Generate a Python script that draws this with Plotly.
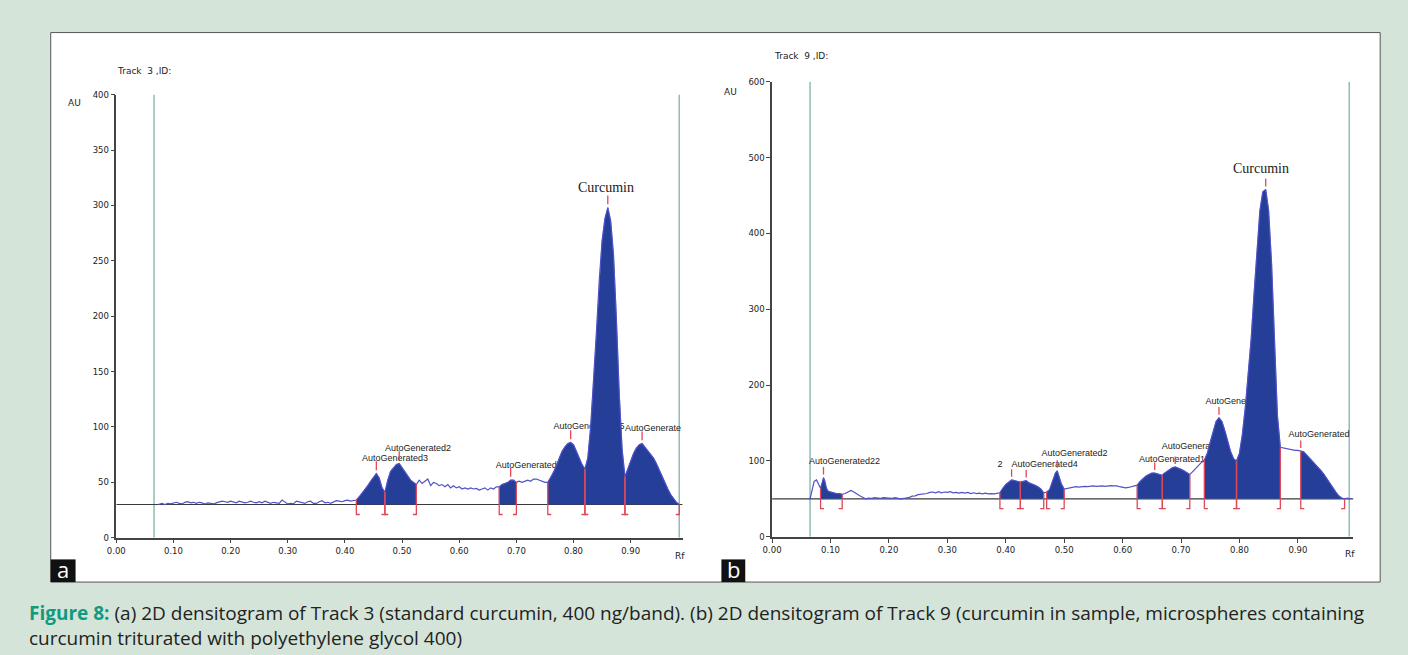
import numpy as np
import plotly.graph_objects as go

W, H = 1408, 655

# ---------------- DATA ----------------
# Panel a : Track 3 (standard curcumin)
A_RF = [0.073, 0.08, 0.085, 0.09, 0.095, 0.10, 0.105, 0.11, 0.115, 0.12, 0.125, 0.13, 0.135, 0.14, 0.145,
        0.15, 0.155, 0.16, 0.165, 0.17, 0.175, 0.18, 0.185, 0.19, 0.195, 0.20, 0.205, 0.21, 0.215, 0.22,
        0.225, 0.23, 0.235, 0.24, 0.245, 0.25, 0.255, 0.26, 0.265, 0.27, 0.275, 0.28, 0.285, 0.29, 0.295,
        0.30, 0.305, 0.31, 0.315, 0.32, 0.325, 0.33, 0.335, 0.34, 0.345, 0.35, 0.355, 0.36, 0.365, 0.37,
        0.375, 0.38, 0.385, 0.39, 0.395, 0.40, 0.405, 0.41, 0.415, 0.42,
        0.425, 0.43, 0.435, 0.44, 0.445, 0.45, 0.455, 0.46, 0.465, 0.47, 0.475, 0.48, 0.485, 0.49, 0.495,
        0.50, 0.505, 0.51, 0.515, 0.52, 0.525,
        0.53, 0.535, 0.54, 0.545, 0.55, 0.555, 0.56, 0.565, 0.57, 0.575, 0.58, 0.585, 0.59, 0.595, 0.60,
        0.605, 0.61, 0.615, 0.62, 0.625, 0.63, 0.635, 0.64, 0.645, 0.65, 0.655, 0.66, 0.665, 0.67,
        0.675, 0.68, 0.685, 0.69, 0.695, 0.70,
        0.705, 0.71, 0.715, 0.72, 0.725, 0.73, 0.735, 0.74, 0.745, 0.75, 0.755,
        0.76, 0.765, 0.77, 0.775, 0.78, 0.785, 0.79, 0.795, 0.80, 0.805, 0.81, 0.815, 0.82, 0.825, 0.83,
        0.835, 0.84, 0.845, 0.85, 0.855, 0.86, 0.865, 0.87, 0.875, 0.88, 0.885, 0.89, 0.895, 0.90, 0.905,
        0.91, 0.915, 0.92, 0.925, 0.93, 0.935, 0.94, 0.945, 0.95, 0.955, 0.96, 0.965, 0.97, 0.975, 0.98, 0.985]
A_AU = [30, 31, 30, 31, 30.5, 31.5, 32, 31, 30.5, 32, 32.5, 31.5, 32, 31, 32,
        31.5, 30.5, 31.5, 31, 30.5, 31.5, 32, 33, 32.5, 32, 33, 32, 31.5, 33, 32.5,
        31.5, 32, 33, 32, 31.5, 32.5, 31.5, 33, 32, 31, 32, 31.5, 31, 34, 32,
        30.5, 31, 30.5, 33, 32.5, 32, 31, 32.5, 33, 31, 31, 32.5, 33.5, 31.5, 32,
        31, 32.5, 33.5, 33, 32.5, 33.5, 34, 33, 33.5, 34,
        37, 40, 44, 47, 51, 55, 58, 54, 45, 41, 52, 60, 63, 66, 67,
        63, 60, 55, 52, 50, 48,
        52, 49, 51, 53, 47, 50, 49, 47, 48, 46, 48, 45, 47, 45, 46,
        44, 45, 44, 45, 44, 44.5, 43, 44, 45, 43, 45, 44, 46, 46,
        48, 49, 50, 52, 52, 50,
        51, 50, 51, 52, 51, 53, 53, 52, 51, 50, 50,
        54, 59, 65, 72, 78, 82, 85, 86, 84, 78, 72, 66, 62, 72, 100,
        140, 185, 232, 268, 288, 298, 286, 255, 198, 130, 80, 55, 62, 70, 76,
        81, 84, 85, 82, 79, 76, 72, 67, 61, 55, 49, 44, 39, 35, 32, 30]
A_BASE = 30
A_WINDOWS = [(0.42, 0.47), (0.47, 0.525), (0.67, 0.70), (0.755, 0.82), (0.82, 0.89), (0.89, 0.985)]
A_APEX = [0.455, 0.495, 0.69, 0.795, 0.86, 0.92]
A_LABELS = ["AutoGenerated3", "AutoGenerated2", "AutoGenerated1", "AutoGenerated15", "AutoGenerate"]
A_LABEL_POS = [(0.430, 71), (0.470, 80), (0.664, 65), (0.765, 100), (0.890, 98)]

# Panel b : Track 9 (sample)
B_RF = [0.065, 0.068, 0.072, 0.076, 0.08, 0.083, 0.086, 0.088, 0.09, 0.093, 0.096, 0.10, 0.105, 0.11,
        0.115, 0.12, 0.125, 0.13, 0.135, 0.14, 0.145, 0.15, 0.155, 0.16, 0.165, 0.17, 0.175, 0.18, 0.185,
        0.19, 0.195, 0.20, 0.205, 0.21, 0.215, 0.22, 0.225, 0.23, 0.235, 0.24, 0.245, 0.25, 0.255, 0.26,
        0.265, 0.27, 0.275, 0.28, 0.285, 0.29, 0.295, 0.30, 0.305, 0.31, 0.315, 0.32, 0.325, 0.33, 0.335,
        0.34, 0.345, 0.35, 0.355, 0.36, 0.365, 0.37, 0.375, 0.38, 0.385, 0.39,
        0.395, 0.40, 0.405, 0.41, 0.415, 0.42, 0.425, 0.43, 0.435, 0.44, 0.445, 0.45, 0.455, 0.46, 0.465,
        0.47, 0.475, 0.48, 0.485, 0.488, 0.49, 0.495, 0.50,
        0.505, 0.51, 0.515, 0.52, 0.525, 0.53, 0.535, 0.54, 0.545, 0.55, 0.555, 0.56, 0.565, 0.57, 0.575,
        0.58, 0.585, 0.59, 0.595, 0.60, 0.605, 0.61, 0.615, 0.62, 0.625,
        0.63, 0.635, 0.64, 0.645, 0.65, 0.655, 0.66, 0.665, 0.668, 0.67, 0.675, 0.68, 0.685, 0.69, 0.695,
        0.70, 0.705, 0.71, 0.715,
        0.72, 0.725, 0.73, 0.735, 0.74,
        0.745, 0.75, 0.755, 0.76, 0.765, 0.77, 0.775, 0.78, 0.785, 0.79, 0.795, 0.80, 0.805, 0.81, 0.815,
        0.82, 0.825, 0.83, 0.835, 0.84, 0.845, 0.85, 0.855, 0.86, 0.865, 0.87,
        0.875, 0.88, 0.885, 0.89, 0.895, 0.90, 0.905,
        0.91, 0.915, 0.92, 0.925, 0.93, 0.935, 0.94, 0.945, 0.95, 0.955, 0.96, 0.965, 0.97, 0.975, 0.98,
        0.985, 0.99]
B_AU = [50, 60, 73, 75, 68, 64, 72, 78, 74, 64, 60, 59, 58, 57,
        57, 56, 57, 59, 61, 59, 56, 54, 52, 50, 51, 50.5, 51.5, 51, 50.5,
        51.5, 51, 51, 50.5, 51.5, 50.5, 50, 50.5, 51, 52, 53.5, 54, 55.5, 56, 57,
        57, 58.5, 59, 58, 59.5, 58, 59, 58.5, 59.5, 58, 58.5, 57.5, 58.5, 57.5, 58.5,
        57, 58, 57, 57.5, 56.5, 57.5, 56.5, 57, 56.5, 57, 58,
        64, 69, 72, 75, 74, 73, 72, 73, 74, 71, 70, 68, 66, 63, 58,
        59, 62, 72, 84, 87, 82, 70, 63,
        64, 65, 65.5, 66, 65.5, 66, 66.5, 66, 66.5, 67, 66.5, 67, 67, 66.5, 67,
        67.5, 67, 67, 66, 65, 64.5, 65, 66, 67, 68,
        73, 77, 80, 82, 84, 84, 83, 82, 81, 83, 86, 89, 91, 92, 91,
        89, 87, 84, 82,
        86, 90, 95, 98, 101,
        110, 125, 140, 152, 157, 152, 140, 125, 112, 103, 100, 110, 135, 170, 210,
        260, 320, 380, 430, 455, 458, 430, 360, 260, 160, 118,
        117, 116, 115, 115, 114, 114, 113,
        112, 108, 104, 100, 96, 92, 87, 82, 76, 70, 64, 59, 54, 51, 50,
        51, 50]
B_BASE = 50
B_WINDOWS = [(0.083, 0.12), (0.39, 0.425), (0.425, 0.465), (0.47, 0.50), (0.625, 0.668),
             (0.668, 0.715), (0.74, 0.795), (0.795, 0.87), (0.905, 0.98)]
B_APEX = [0.088, 0.41, 0.435, 0.488, 0.655, 0.69, 0.765, 0.845, 0.905]
B_LABELS = ["AutoGenerated22", "2", "AutoGenerated4", "AutoGenerated2", "AutoGenerated13",
            "AutoGenerated1", "AutoGenerated15", "AutoGenerated"]
B_LABEL_POS = [(0.063, 99), (0.386, 95), (0.410, 95), (0.461, 110), (0.628, 102),
               (0.667, 119), (0.742, 178), (0.884, 134)]

A_YTICKS = [0, 50, 100, 150, 200, 250, 300, 350, 400]
B_YTICKS = [0, 100, 200, 300, 400, 500, 600]
XTICKS = [0.0, 0.1, 0.2, 0.3, 0.4, 0.5, 0.6, 0.7, 0.8, 0.9]
XTICK_TEXT = ["0.00", "0.10", "0.20", "0.30", "0.40", "0.50", "0.60", "0.70", "0.80", "0.90"]

CAPTION_BOLD = "Figure 8:"
CAPTION_1 = (" (a) 2D densitogram of Track 3 (standard curcumin, 400 ng/band). (b) 2D densitogram of Track 9 "
             "(curcumin in sample, microspheres containing")
CAPTION_2 = "curcumin triturated with polyethylene glycol 400)"

# ---------------- STYLE ----------------
BG = "#d5e4d9"
FILL = "#253f99"
CURVE = "#5050c8"
RED = "#e0485a"
GREEN_LINE = "#8fbdb6"
AXIS = "#444444"
SANS = "Liberation Sans"
TICKFONT = "DejaVu Sans"


def px(x):
    return x / W


def py(y):
    return 1 - y / H


fig = go.Figure()

panels = [
    dict(rf=A_RF, au=A_AU, base=A_BASE, win=A_WINDOWS, apex=A_APEX, labels=A_LABELS, lpos=A_LABEL_POS,
         xa="x", ya="y", d=9, w=0.006, ap=(3, 11), green=[(0.066, 400), (0.985, 400)], xend=0.991),
    dict(rf=B_RF, au=B_AU, base=B_BASE, win=B_WINDOWS, apex=B_APEX, labels=B_LABELS, lpos=B_LABEL_POS,
         xa="x2", ya="y2", d=13, w=0.006, ap=(4, 14), green=[(0.065, 600), (0.988, 600)], xend=0.995),
]

for p in panels:
    rf = np.array(p["rf"])
    au = np.array(p["au"])
    # peak labels (drawn first so the fills overlap them, as in the original)
    fig.add_trace(go.Scatter(
        x=[q[0] for q in p["lpos"]], y=[q[1] for q in p["lpos"]], text=p["labels"],
        mode="text", textposition="middle right",
        textfont=dict(family=SANS, size=9, color="#222222"),
        xaxis=p["xa"], yaxis=p["ya"], showlegend=False, hoverinfo="skip"))
    # baseline
    fig.add_trace(go.Scatter(x=[0, p["xend"]], y=[p["base"], p["base"]], mode="lines",
                             line=dict(color="#3a3a3a", width=1.2),
                             xaxis=p["xa"], yaxis=p["ya"], showlegend=False, hoverinfo="skip"))
    # integrated peak areas
    for a, b in p["win"]:
        m = (rf >= a - 1e-9) & (rf <= b + 1e-9)
        xs = [a] + list(rf[m]) + [b]
        ys = [p["base"]] + list(au[m]) + [p["base"]]
        fig.add_trace(go.Scatter(x=xs, y=ys, fill="toself", fillcolor=FILL, mode="lines",
                                 line=dict(color=FILL, width=0.5),
                                 xaxis=p["xa"], yaxis=p["ya"], showlegend=False, hoverinfo="skip"))
    # densitogram curve
    fig.add_trace(go.Scatter(x=rf, y=au, mode="lines", line=dict(color=CURVE, width=1.2),
                             xaxis=p["xa"], yaxis=p["ya"], showlegend=False, hoverinfo="skip"))
    # red integration markers
    mx, my = [], []
    for a, b in p["win"]:
        for edge, sgn in ((a, 1), (b, -1)):
            top = float(np.interp(edge, rf, au))
            mx += [edge + sgn * p["w"], edge, edge, None]
            my += [p["base"] - p["d"], p["base"] - p["d"], top, None]
    for xp in p["apex"]:
        top = float(np.interp(xp, rf, au))
        mx += [xp, xp, None]
        my += [top + p["ap"][0], top + p["ap"][1], None]
    fig.add_trace(go.Scatter(x=mx, y=my, mode="lines", line=dict(color=RED, width=1.3),
                             xaxis=p["xa"], yaxis=p["ya"], showlegend=False, hoverinfo="skip"))

# ---------------- LAYOUT ----------------
shapes = [
    dict(type="rect", xref="paper", yref="paper", x0=px(42), x1=px(1380), y0=py(586), y1=py(28),
         fillcolor="white", line=dict(color="#555555", width=1), layer="below"),
    dict(type="rect", xref="paper", yref="paper", x0=px(42), x1=px(67), y0=py(586), y1=py(563),
         fillcolor="#111111", line=dict(width=0), layer="below"),
    dict(type="rect", xref="paper", yref="paper", x0=px(717), x1=px(741), y0=py(586), y1=py(563),
         fillcolor="#111111", line=dict(width=0), layer="below"),
]
for p in panels:
    for gx, gtop in p["green"]:
        shapes.append(dict(type="line", xref=p["xa"], yref=p["ya"], x0=gx, x1=gx, y0=0, y1=gtop,
                           line=dict(color=GREEN_LINE, width=1.5), layer="below"))

small = dict(family=TICKFONT, size=9, color="#222222")
annotations = [
    dict(text="Curcumin", x=0.856, y=316, xref="x", yref="y", showarrow=False,
         font=dict(family="Liberation Serif", size=14, color="#222222")),
    dict(text="Curcumin", x=0.837, y=486, xref="x2", yref="y2", showarrow=False,
         font=dict(family="Liberation Serif", size=14, color="#222222")),
    dict(text="Track  3 ,ID:", x=px(107), y=py(67), xanchor="left", yanchor="middle", font=small),
    dict(text="Track  9 ,ID:", x=px(768), y=py(52), xanchor="left", yanchor="middle", font=small),
    dict(text="AU", x=px(57), y=py(100), xanchor="left", yanchor="middle", font=small),
    dict(text="AU", x=px(718), y=py(88), xanchor="left", yanchor="middle", font=small),
    dict(text="Rf", x=px(675), y=py(560), xanchor="center", yanchor="middle", font=small),
    dict(text="Rf", x=px(1350), y=py(558), xanchor="center", yanchor="middle", font=small),
    dict(text="a", x=px(54.5), y=py(573), xanchor="center", yanchor="middle",
         font=dict(family="Open Sans", size=22, color="white")),
    dict(text="b", x=px(729), y=py(573), xanchor="center", yanchor="middle",
         font=dict(family="Open Sans", size=22, color="white")),
    dict(text="<span style='color:#119a7e'><b>" + CAPTION_BOLD + "</b></span>" + CAPTION_1
         + "<br>" + CAPTION_2,
         x=px(18), y=py(630), xanchor="left", yanchor="middle", align="left",
         font=dict(family="Open Sans", size=19, color="#222222")),
]
for an in annotations:
    an.setdefault("xref", "paper")
    an.setdefault("yref", "paper")
    an.setdefault("showarrow", False)

axis_common = dict(showgrid=False, zeroline=False, showline=True, linecolor=AXIS, linewidth=1.5,
                   ticks="outside", ticklen=4, tickcolor=AXIS, tickwidth=1.2,
                   tickfont=dict(family=TICKFONT, size=8.5, color="#222222"), fixedrange=True)

fig.update_layout(
    width=W, height=H, margin=dict(l=0, r=0, t=0, b=0),
    paper_bgcolor=BG, plot_bgcolor="rgba(0,0,0,0)",
    showlegend=False, shapes=shapes, annotations=annotations,
    xaxis=dict(domain=[px(108), px(678)], range=[0, 0.991], tickvals=XTICKS, ticktext=XTICK_TEXT,
               anchor="y", **axis_common),
    yaxis=dict(domain=[py(541), py(91)], range=[0, 400], tickvals=A_YTICKS, anchor="x", **axis_common),
    xaxis2=dict(domain=[px(768), px(1353)], range=[0, 0.995], tickvals=XTICKS, ticktext=XTICK_TEXT,
                anchor="y2", **axis_common),
    yaxis2=dict(domain=[py(540), py(78)], range=[0, 600], tickvals=B_YTICKS, anchor="x2", **axis_common),
)

fig.write_html("out.html")
